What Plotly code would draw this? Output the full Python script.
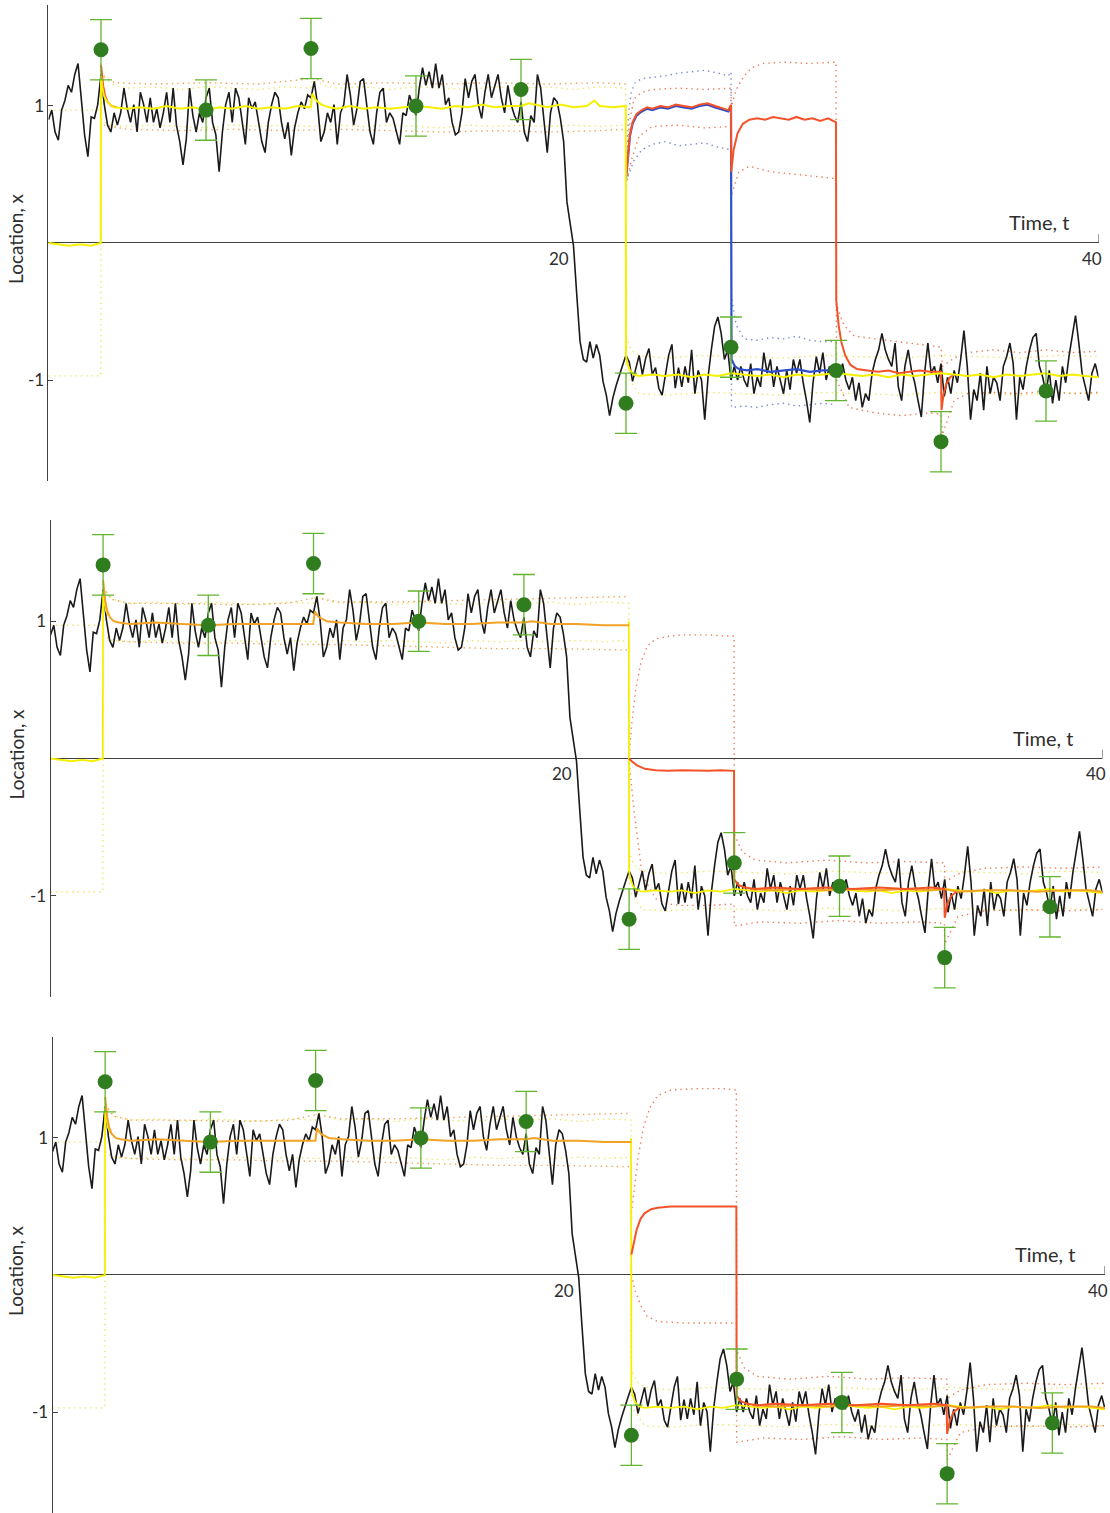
import numpy as np
import plotly.graph_objects as go

# ---------------------------------------------------------------------------
# True particle path x(t), sampled every 0.125 time units over 0..40
# ---------------------------------------------------------------------------
path_x = [
    0.90, 0.97, 0.81, 0.75, 0.97, 1.04, 1.15, 1.10, 1.23, 1.31, 1.05, 0.79, 0.63, 0.92, 0.91, 1.01, 1.23, 1.01, 0.86, 0.81, 0.95,
    0.86, 0.95, 1.13, 0.98, 0.88, 1.01, 0.81, 1.10, 1.01, 0.88, 1.06, 0.88, 0.98, 0.84, 0.95, 1.10, 0.88, 1.13, 0.86, 0.74,
    0.57, 0.76, 1.13, 0.93, 0.81, 0.95, 0.88, 1.06, 1.13, 0.88, 0.79, 0.52, 0.81, 1.01, 1.10, 0.88, 1.13, 1.06, 0.88, 0.72,
    1.06, 0.98, 1.03, 0.88, 0.74,
    0.66, 0.88, 1.01, 1.10, 1.06, 0.88, 0.76, 0.88, 0.64, 0.84, 0.95, 1.03, 0.98, 1.08, 1.06, 1.18, 1.01, 0.74, 0.81, 0.95,
    0.88, 1.01, 0.72, 0.95, 1.01, 1.23, 1.08, 0.86, 0.98, 1.18, 1.20, 1.01, 0.81, 0.72, 0.95, 1.10, 1.13, 0.88, 0.95, 0.91,
    0.81, 0.72, 0.95, 0.93, 1.08, 1.01, 0.93, 1.13, 1.28, 1.15, 1.25, 1.13, 1.31, 1.13, 1.23, 1.01, 1.06, 0.88, 0.79, 0.81,
    0.95, 1.20, 1.06,
    1.18, 1.23, 1.01, 0.91, 1.10, 1.23, 1.06, 1.15, 1.23, 1.06, 0.95, 1.15, 1.01, 0.93, 0.88, 1.03, 0.81, 0.74, 0.93, 0.88,
    1.23, 1.13, 0.88, 0.66, 0.95, 1.06, 1.03, 0.91, 0.74,
    0.30, 0.14, -0.02, -0.38, -0.72, -0.85, -0.87,
    -0.72, -0.84, -0.74, -0.82, -1.01, -1.11, -1.26, -1.13, -1.04, -0.96, -0.89, -0.82, -0.87, -1.01, -0.91, -0.82, -0.96,
    -0.84, -0.77, -0.96, -0.91, -1.06, -1.11, -0.96, -0.82, -0.74, -1.06, -0.91,
    -1.05, -0.90, -1.02, -0.78, -1.10, -0.93, -1.00, -1.29, -0.98, -0.78, -0.61, -0.54, -0.66, -0.85, -0.78, -1.00, -0.90,
    -1.00, -0.90, -1.00, -1.05, -0.88, -1.10, -0.98, -1.05, -0.80, -0.95, -0.85, -1.05, -0.90, -1.00, -1.10, -0.93, -1.07,
    -0.85, -0.95, -0.85, -1.02, -1.15, -1.31, -1.02, -0.83, -0.95, -0.80, -1.00, -0.90, -0.95, -0.93, -0.98, -0.88, -1.00,
    -1.07, -0.98, -1.15, -1.02, -1.20, -1.10, -1.15, -0.95, -0.85, -0.78, -0.66, -0.78, -0.85, -0.90,
    -0.73, -1.05, -1.15, -0.90, -0.78, -0.93, -1.02, -1.15, -1.27, -0.95, -0.73, -0.95, -0.90, -1.02, -0.88, -1.12, -0.98,
    -1.10, -0.93, -1.02, -0.85, -0.64, -0.90, -1.29, -1.07, -1.15, -0.95, -1.22, -0.90, -1.10, -0.98, -1.02, -1.15, -0.90,
    -0.83, -0.73, -0.88, -1.29, -0.98, -1.07, -0.90, -0.78, -0.69, -0.66, -0.90, -0.98, -1.10, -0.93, -1.17, -1.00, -1.15,
    -0.90, -1.02, -0.83, -0.69, -0.53, -0.73, -0.95, -1.05, -1.15, -0.95, -0.88, -0.98,
]
path_t = np.linspace(0, 40, len(path_x))

# Noisy observations with their error bars
obs_t = [2, 6, 10, 14, 18, 22, 26, 30, 34, 38]
obs_x = [1.41, 0.97, 1.42, 1.00, 1.12, -1.17, -0.76, -0.93, -1.45, -1.08]
obs_err = [0.22, 0.22, 0.22, 0.22, 0.22, 0.22, 0.22, 0.22, 0.22, 0.22]

# ---------------------------------------------------------------------------
# Filter estimates, as (t, x) pairs
# ---------------------------------------------------------------------------
yellow_mean = [
    (0, 0.0), (0.4, -0.01), (0.8, -0.02), (1.2, -0.01), (1.6, -0.02), (1.99, 0.0),
    (2.0, 1.22), (2.05, 1.14), (2.1, 1.08), (2.2, 1.04), (2.35, 1.01), (2.5, 0.99),
    (3.0, 0.98), (3.5, 0.99), (4.0, 0.98), (4.5, 1.0), (5.0, 0.98), (5.5, 0.99), (6.0, 0.97), (6.5, 0.99),
    (7.0, 0.98), (7.5, 1.0), (8.0, 0.98), (8.5, 0.99), (9.0, 0.98), (9.5, 1.0), (9.99, 0.99),
    (10.05, 1.09), (10.2, 1.04), (10.4, 1.01), (10.7, 0.99), (11.0, 0.98), (11.5, 1.0), (12.0, 0.98),
    (12.5, 0.99), (13.0, 0.98), (13.5, 0.99), (14.0, 1.0), (14.5, 0.99), (15.0, 0.98), (15.5, 1.0),
    (16.0, 0.99), (16.5, 1.01), (17.0, 0.99), (17.5, 1.0), (18.0, 1.0), (18.3, 1.02), (18.7, 1.0),
    (19.0, 0.99), (19.5, 1.01), (20.0, 0.99), (20.5, 1.0), (20.8, 1.04), (21.0, 1.0), (21.5, 0.99), (21.99, 1.0),
    (22.0, -0.82), (22.05, -0.88), (22.15, -0.93), (22.3, -0.96), (22.5, -0.97), (23.0, -0.96), (23.5, -0.97),
    (24.0, -0.96), (24.5, -0.98), (25.0, -0.96), (25.5, -0.97), (26.0, -0.95), (26.5, -0.96), (27.0, -0.97),
    (27.5, -0.96), (28.0, -0.98), (28.5, -0.96), (29.0, -0.97), (29.5, -0.96), (30.0, -0.95), (30.5, -0.96),
    (31.0, -0.97), (31.5, -0.96), (32.0, -0.98), (32.5, -0.96), (33.0, -0.97), (33.5, -0.96), (34.0, -0.95),
    (34.5, -0.96), (35.0, -0.97), (35.5, -0.96), (36.0, -0.98), (36.5, -0.96), (37.0, -0.97), (37.5, -0.96),
    (38.0, -0.95), (38.5, -0.97), (39.0, -0.96), (39.5, -0.97), (40.0, -0.98),
]

early_decay = [(2.0, 1.30), (2.04, 1.22), (2.08, 1.15), (2.15, 1.08), (2.25, 1.03), (2.4, 1.0), (2.6, 0.99)]

orange_mean = [
    (2.0, 1.30), (2.04, 1.22), (2.08, 1.15), (2.15, 1.08), (2.25, 1.03), (2.4, 1.0), (2.6, 0.99), (3.0, 0.98),
    (4.0, 0.99), (5.0, 0.98), (6.0, 0.97), (7.0, 0.98), (8.0, 0.98), (9.0, 0.98), (9.99, 0.98), (10.05, 1.07),
    (10.2, 1.03), (10.5, 1.0), (11.0, 0.99), (12.0, 0.98), (13.0, 0.98), (14.0, 0.99), (15.0, 0.98), (16.0, 0.98),
    (17.0, 0.99), (18.0, 0.99), (18.3, 1.0), (19.0, 0.98), (20.0, 0.98), (21.0, 0.97), (22.0, 0.97),
]
orange_late = [
    (26.6, -0.95), (27.5, -0.96), (28.5, -0.95), (29.5, -0.96), (30.5, -0.95), (31.5, -0.96), (32.5, -0.95),
    (33.5, -0.96), (34.0, -0.95), (34.5, -0.97), (35.5, -0.96), (36.5, -0.96), (37.5, -0.97), (38.5, -0.96),
    (39.5, -0.96), (40.0, -0.97),
]

blue_mean_1 = [
    (22.0, 0.47), (22.08, 0.66), (22.15, 0.78), (22.25, 0.87), (22.4, 0.93), (22.6, 0.96), (22.8, 0.98),
    (23.0, 0.97), (23.3, 0.99), (23.6, 0.98), (23.9, 1.0), (24.2, 0.99), (24.5, 0.98), (24.8, 1.0), (25.1, 1.01),
    (25.4, 0.99), (25.7, 0.97), (25.9, 0.96), (26.0, 1.0), (26.02, -0.85), (26.15, -0.9), (26.3, -0.92),
    (26.6, -0.93), (27.0, -0.92), (27.5, -0.94), (28.0, -0.93), (28.5, -0.92), (29.0, -0.94), (29.5, -0.93), (30.0, -0.93),
]
red_mean_1 = [
    (22.0, 0.48), (22.08, 0.67), (22.15, 0.79), (22.25, 0.88), (22.4, 0.94), (22.6, 0.97), (22.8, 0.99),
    (23.0, 0.98), (23.3, 1.0), (23.6, 0.99), (23.9, 1.01), (24.2, 1.0), (24.5, 0.99), (24.8, 1.01), (25.1, 1.02),
    (25.4, 1.0), (25.7, 0.98), (25.9, 0.97), (26.0, 1.01), (26.01, 0.52), (26.1, 0.68), (26.25, 0.8), (26.45, 0.87),
    (26.7, 0.9), (27.0, 0.91), (27.3, 0.9), (27.6, 0.92), (27.9, 0.91), (28.2, 0.9), (28.5, 0.92), (28.8, 0.9),
    (29.1, 0.91), (29.4, 0.89), (29.7, 0.91), (29.95, 0.88), (30.0, 0.88), (30.01, -0.42), (30.1, -0.6),
    (30.2, -0.72), (30.35, -0.82), (30.55, -0.89), (30.8, -0.92), (31.2, -0.93), (31.6, -0.94), (32.0, -0.93),
    (32.4, -0.95), (32.8, -0.94), (33.2, -0.93), (33.6, -0.94), (34.0, -0.94), (34.02, -1.22), (34.1, -1.1),
    (34.2, -1.03), (34.35, -0.98), (34.5, -0.96),
]
red_tail = [
    (26.0, -0.88), (26.15, -0.92), (26.4, -0.94), (26.8, -0.95), (27.5, -0.94), (28.5, -0.95), (29.5, -0.94),
    (30.5, -0.95), (31.5, -0.94), (32.5, -0.95), (33.5, -0.94), (33.98, -0.95), (34.0, -1.16), (34.1, -1.06),
    (34.25, -1.0), (34.45, -0.97),
]
red_head_2 = [
    (22.0, 0.0), (22.1, -0.02), (22.3, -0.05), (22.6, -0.075), (23.0, -0.085), (23.5, -0.09), (24.0, -0.085),
    (24.5, -0.09), (25.0, -0.09), (25.5, -0.085), (25.99, -0.09),
]
red_head_3 = [
    (22.0, 0.15), (22.1, 0.25), (22.2, 0.33), (22.35, 0.41), (22.5, 0.45), (22.75, 0.48), (23.0, 0.49),
    (23.5, 0.5), (24.5, 0.5), (25.5, 0.5), (25.99, 0.5),
]

# ---------------------------------------------------------------------------
# Uncertainty bands (dotted)
# ---------------------------------------------------------------------------
yellow_band_up = [
    (0, 0.97), (1.99, 0.97), (2.0, 1.25), (2.2, 1.19), (2.5, 1.15), (3, 1.13), (4, 1.14), (5, 1.12), (6, 1.14),
    (7, 1.13), (8, 1.12), (9, 1.14), (9.99, 1.13), (10.05, 1.19), (10.5, 1.15), (11, 1.13), (12, 1.14), (13, 1.12),
    (14, 1.14), (15, 1.13), (16, 1.12), (17, 1.14), (18, 1.13), (19, 1.14), (20, 1.12), (21, 1.14), (21.99, 1.13),
    (22.0, -0.68), (22.2, -0.78), (22.5, -0.82), (23.5, -0.84), (25, -0.82), (26.5, -0.83), (28, -0.84),
    (29.5, -0.82), (31, -0.83), (32.5, -0.84), (34, -0.82), (35.5, -0.83), (37, -0.84), (38.5, -0.82), (40, -0.83),
]
yellow_band_lo = [
    (0, -0.97), (1.99, -0.97), (2.0, 0.9), (2.3, 0.86), (3, 0.85), (4, 0.86), (5, 0.85), (6, 0.84), (7, 0.86),
    (8, 0.85), (9, 0.86), (10, 0.85), (11, 0.86), (12, 0.85), (13, 0.86), (14, 0.85), (15, 0.84), (16, 0.86),
    (17, 0.85), (18, 0.86), (19, 0.85), (20, 0.86), (21, 0.85), (21.99, 0.86), (22.0, -0.96), (22.5, -1.1),
    (23.5, -1.11), (25, -1.09), (26.5, -1.1), (28, -1.11), (29.5, -1.09), (31, -1.1), (32.5, -1.11), (34, -1.09),
    (35.5, -1.1), (37, -1.11), (38.5, -1.09), (40, -1.1),
]
orange_band_up_1 = [
    (2.1, 1.22), (2.5, 1.17), (4, 1.16), (6, 1.17), (8, 1.16), (10.05, 1.2), (11, 1.16), (13, 1.17), (15, 1.16),
    (17, 1.17), (19, 1.16), (21, 1.17), (22, 1.16),
]
orange_band_lo_1 = [
    (2.1, 0.86), (3, 0.83), (5, 0.82), (7, 0.83), (9, 0.82), (11, 0.83), (13, 0.82), (15, 0.81), (17, 0.82),
    (19, 0.81), (21, 0.82), (22, 0.83),
]
orange_band_up = [
    (2.0, 1.25), (2.3, 1.16), (3, 1.13), (5, 1.13), (7, 1.12), (9, 1.13), (10.05, 1.17), (11, 1.14), (13, 1.14),
    (15, 1.15), (17, 1.16), (19, 1.17), (21, 1.18), (22, 1.18),
]
orange_band_lo = [
    (2.0, 0.9), (2.5, 0.86), (3, 0.85), (5, 0.84), (7, 0.84), (9, 0.83), (11, 0.83), (13, 0.82), (15, 0.81),
    (17, 0.80), (19, 0.80), (21, 0.79), (22, 0.79),
]
blue_band_up_1 = [
    (22.0, 0.5), (22.1, 0.95), (22.2, 1.1), (22.35, 1.17), (22.6, 1.2), (23, 1.21), (23.5, 1.22), (24, 1.24),
    (24.5, 1.25), (25, 1.26), (25.5, 1.24), (25.9, 1.22), (26.0, 1.25), (26.02, -0.4), (26.2, -0.6), (26.5, -0.7),
    (27, -0.71), (27.5, -0.69), (28, -0.7), (28.5, -0.68), (29, -0.71), (29.5, -0.72), (30, -0.72),
]
blue_band_lo_1 = [
    (22.0, 0.45), (22.1, 0.5), (22.3, 0.6), (22.6, 0.68), (23, 0.72), (23.5, 0.74), (24, 0.71), (24.5, 0.72),
    (25, 0.73), (25.5, 0.7), (26.0, 0.68), (26.02, -1.2), (26.5, -1.19), (27, -1.2), (27.5, -1.18), (28, -1.17),
    (28.5, -1.19), (29, -1.18), (29.5, -1.17), (30, -1.18),
]
red_band_up_1 = [
    (22.0, 0.55), (22.15, 0.9), (22.3, 1.05), (22.6, 1.1), (23, 1.12), (24, 1.13), (25, 1.12), (26.0, 1.13),
    (26.02, 1.0), (26.2, 1.12), (26.5, 1.22), (26.8, 1.28), (27.2, 1.31), (28, 1.32), (29, 1.31), (30, 1.32),
    (30.02, -0.45), (30.3, -0.6), (30.7, -0.68), (31.5, -0.7), (32.5, -0.72), (33.5, -0.75), (34.0, -0.76),
    (34.05, -0.9), (34.5, -0.84), (35, -0.8), (36, -0.78), (37, -0.8), (38, -0.78), (39, -0.8), (40, -0.79),
]
red_band_lo_1 = [
    (22.0, 0.42), (22.2, 0.6), (22.5, 0.78), (23, 0.85), (24, 0.86), (25, 0.84), (26.0, 0.85), (26.02, 0.35),
    (26.3, 0.52), (26.7, 0.56), (27.5, 0.52), (28.5, 0.5), (29.5, 0.48), (30, 0.47), (30.02, -1.0), (30.5, -1.2),
    (31.5, -1.24), (32.5, -1.26), (33.5, -1.24), (34.0, -1.25), (34.05, -1.4), (34.5, -1.15), (35, -1.1),
    (36, -1.09), (37, -1.1), (38, -1.08), (39, -1.1), (40, -1.09),
]
late_band_up = [
    (26.0, -0.55), (26.3, -0.68), (26.8, -0.74), (28, -0.76), (29.5, -0.74), (31, -0.76), (32.5, -0.75),
    (33.99, -0.76), (34.0, -0.9), (34.5, -0.84), (35.5, -0.8), (37, -0.79), (38.5, -0.8), (40, -0.79),
]
late_band_lo = [
    (26.0, -1.22), (27, -1.19), (28.5, -1.2), (30, -1.18), (31.5, -1.2), (33, -1.19), (33.99, -1.2),
    (34.0, -1.35), (34.5, -1.15), (35.5, -1.11), (37, -1.1), (38.5, -1.11), (40, -1.1),
]
red_band_head_up_2 = [
    (22.0, 0.02), (22.1, 0.25), (22.25, 0.5), (22.45, 0.7), (22.7, 0.82), (23.0, 0.87), (23.5, 0.89),
    (24.0, 0.9), (25.0, 0.9), (25.99, 0.89),
]
red_band_head_lo_2 = [
    (22.0, -0.03), (22.2, -0.4), (22.5, -0.85), (23.0, -1.02), (23.5, -1.06), (24.0, -1.07), (25.0, -1.07),
    (25.99, -1.06),
]
red_band_head_up_3 = [
    (22.0, 0.45), (22.1, 0.6), (22.25, 0.85), (22.45, 1.07), (22.7, 1.22), (23.0, 1.31), (23.5, 1.35),
    (24.5, 1.36), (25.5, 1.36), (25.99, 1.35),
]
red_band_head_lo_3 = [
    (22.0, 0.0), (22.15, -0.12), (22.35, -0.22), (22.6, -0.3), (23.0, -0.34), (24.0, -0.35), (25.0, -0.35),
    (25.99, -0.35),
]

# ---------------------------------------------------------------------------
# Styling
# ---------------------------------------------------------------------------
C_PATH = "#1a1a1a"
C_YELLOW = "#f6f000"
C_ORANGE = "#f2a224"
C_RED = "#f4532a"
C_BLUE = "#2f4fc8"
C_DOT = "#2f7d1f"
C_BAR = "#63b52f"
DOT_YELLOW = "#ebe766"
DOT_ORANGE = "#efa35a"
DOT_RED = "#ef7a55"
DOT_BLUE = "#7a86cf"
AXIS = "#404040"
TEXT = "#2e2e2e"
FONT = "Lato, 'Open Sans', sans-serif"

Y_HALF = 1.737
panels = [
    # (x domain, y domain)
    ([0.04369, 0.98964], [0.68209, 0.99670]),
    ([0.04550, 0.99324], [0.34105, 0.65631]),
    ([0.04730, 0.99550], [0.0, 0.31461]),
]

fig = go.Figure()


def axis_names(i):
    s = "" if i == 0 else str(i + 1)
    return "x" + s, "y" + s


def add_pairs(i, pairs, color, width=2.0, dotted=False):
    xa, ya = axis_names(i)
    t = [p[0] for p in pairs]
    v = [p[1] for p in pairs]
    line = dict(color=color, width=width)
    if dotted:
        line = dict(color=color, width=1.4, dash="1.4px,4px")
    fig.add_trace(go.Scatter(x=t, y=v, mode="lines", line=line, xaxis=xa, yaxis=ya,
                             showlegend=False, hoverinfo="skip"))


# In the lower panels the yellow estimate is hidden under the orange one
# between the first observation and the jump, so only its ends are drawn.
yellow_start = [p for p in yellow_mean if p[0] <= 2.2]
yellow_end = [p for p in yellow_mean if p[0] >= 21.99]

for i in range(3):
    xa, ya = axis_names(i)
    # dotted uncertainty bands
    add_pairs(i, yellow_band_up, DOT_YELLOW, dotted=True)
    add_pairs(i, yellow_band_lo, DOT_YELLOW, dotted=True)
    if i == 0:
        add_pairs(i, orange_band_up_1, DOT_ORANGE, dotted=True)
        add_pairs(i, orange_band_lo_1, DOT_ORANGE, dotted=True)
        add_pairs(i, blue_band_up_1, DOT_BLUE, dotted=True)
        add_pairs(i, blue_band_lo_1, DOT_BLUE, dotted=True)
        add_pairs(i, red_band_up_1, DOT_RED, dotted=True)
        add_pairs(i, red_band_lo_1, DOT_RED, dotted=True)
    else:
        add_pairs(i, orange_band_up, DOT_ORANGE, dotted=True)
        add_pairs(i, orange_band_lo, DOT_ORANGE, dotted=True)
        head_up = red_band_head_up_2 if i == 1 else red_band_head_up_3
        head_lo = red_band_head_lo_2 if i == 1 else red_band_head_lo_3
        add_pairs(i, head_up + late_band_up, DOT_RED, dotted=True)
        add_pairs(i, head_lo + late_band_lo, DOT_RED, dotted=True)

    # true path
    fig.add_trace(go.Scatter(x=path_t, y=path_x, mode="lines",
                             line=dict(color=C_PATH, width=1.6),
                             xaxis=xa, yaxis=ya, showlegend=False, hoverinfo="skip"))

    # filter means
    if i == 0:
        add_pairs(i, early_decay, C_RED, width=2.0)
        add_pairs(i, blue_mean_1, C_BLUE, width=2.2)
        add_pairs(i, red_mean_1, C_RED, width=2.0)
        add_pairs(i, yellow_mean, C_YELLOW, width=2.0)
    else:
        add_pairs(i, yellow_start, C_YELLOW, width=1.8)
        add_pairs(i, yellow_end, C_YELLOW, width=1.8)
        add_pairs(i, orange_mean, C_ORANGE, width=2.0)
        add_pairs(i, orange_late, C_ORANGE, width=2.0)
        head = red_head_2 if i == 1 else red_head_3
        add_pairs(i, head + red_tail, C_RED, width=2.0)

    # observations
    fig.add_trace(go.Scatter(
        x=obs_t, y=obs_x, mode="markers",
        marker=dict(size=15, color=C_DOT, line=dict(width=0)),
        error_y=dict(type="data", array=obs_err, visible=True, color=C_BAR, thickness=1.3, width=11),
        xaxis=xa, yaxis=ya, showlegend=False, hoverinfo="skip"))

layout = dict(
    width=1110, height=1513,
    margin=dict(l=0, r=0, t=0, b=0),
    paper_bgcolor="white", plot_bgcolor="white",
    font=dict(family=FONT, color=TEXT),
    showlegend=False,
)
annotations = []
shapes = []
for i, (xd, yd) in enumerate(panels):
    s = "" if i == 0 else str(i + 1)
    xa, ya = axis_names(i)
    layout["xaxis" + s] = dict(
        domain=xd, range=[0, 40], anchor=ya, showgrid=False, zeroline=False,
        showline=False, showticklabels=False, ticks="", fixedrange=True)
    layout["yaxis" + s] = dict(
        domain=yd, range=[-Y_HALF, Y_HALF], anchor=xa, showgrid=False,
        zeroline=True, zerolinecolor=AXIS, zerolinewidth=1,
        showline=True, linecolor=AXIS, linewidth=1,
        tickvals=[-1, 1], ticktext=["-1", "1"], ticks="inside", ticklen=5,
        tickcolor=AXIS, tickfont=dict(size=17, family=FONT, color=TEXT),
        fixedrange=True)
    annotations += [
        dict(text="Location, x", xref="paper", yref=ya, x=16 / 1110, y=0.03,
             textangle=-90, showarrow=False, font=dict(size=19, family=FONT, color=TEXT),
             xanchor="center", yanchor="middle"),
        dict(text="Time, t", xref=xa, yref=ya, x=38.95, y=0.15, showarrow=False,
             xanchor="right", yanchor="middle", font=dict(size=20, family=FONT, color=TEXT)),
        dict(text="20", xref=xa, yref=ya, x=19.45, y=-0.11, showarrow=False,
             xanchor="center", yanchor="middle", font=dict(size=17, family=FONT, color=TEXT)),
        dict(text="40", xref=xa, yref=ya, x=39.75, y=-0.11, showarrow=False,
             xanchor="center", yanchor="middle", font=dict(size=17, family=FONT, color=TEXT)),
    ]
    shapes.append(dict(type="line", xref=xa, yref=ya, x0=40, x1=40, y0=0, y1=0.065,
                       line=dict(color=AXIS, width=1)))

layout["annotations"] = annotations
layout["shapes"] = shapes
fig.update_layout(**layout)

fig.write_html("out.html")
